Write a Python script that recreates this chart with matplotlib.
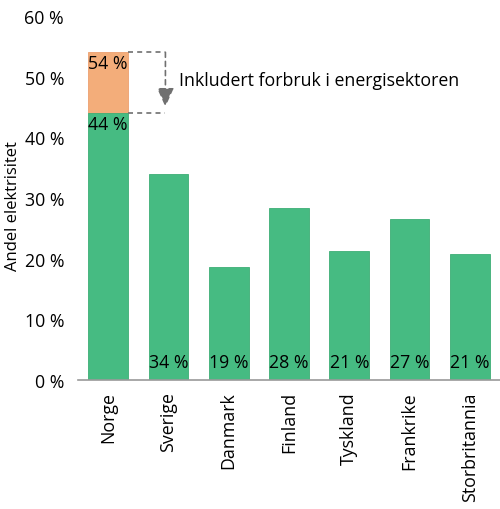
import matplotlib
matplotlib.use("Agg")
import matplotlib.pyplot as plt

# Andel elektrisitet i sluttforbruket
countries = ["Norge", "Sverige", "Danmark", "Finland", "Tyskland", "Frankrike", "Storbritannia"]
values = [44, 33.9, 18.6, 28.4, 21.3, 26.6, 20.8]
value_labels = ["44 %", "34 %", "19 %", "28 %", "21 %", "27 %", "21 %"]
norge_energy_sector = 54  # inkludert forbruk i energisektoren
norge_energy_label = "54 %"
yticks = [0, 10, 20, 30, 40, 50, 60]

green = "#46BB82"
orange = "#F3AD7A"
fs = 12.8

plt.rcParams["font.family"] = ["Open Sans", "DejaVu Sans"]
plt.rcParams["font.size"] = fs

fig = plt.figure(figsize=(5, 5.1), dpi=100)
ax = fig.add_axes([0.156, 0.253, 0.844, 0.714])

x = range(len(countries))
# orange part for Norge on top of green
ax.bar([0], [norge_energy_sector - values[0]], bottom=[values[0]], width=0.66,
       color=orange, edgecolor="#EDA070", linewidth=0.6)
ax.bar(x, values, width=0.66, color=green, edgecolor="#3DAE75", linewidth=0.6)

# value labels
ax.text(0, norge_energy_sector - 0.3, norge_energy_label, ha="center", va="top", fontsize=fs)
ax.text(0, values[0] - 0.3, value_labels[0], ha="center", va="top", fontsize=fs)
for i in range(1, len(countries)):
    ax.text(i, 1.4, value_labels[i], ha="center", va="bottom", fontsize=fs)

# annotation
ax.plot([0.33, 0.95], [norge_energy_sector] * 2, ls=(0, (3, 2.5)), color="#707070", lw=1.2)
ax.plot([0.33, 0.95], [values[0]] * 2, ls=(0, (3, 2.5)), color="#707070", lw=1.2)
ax.annotate("", xy=(0.95, values[0] + 1.0), xytext=(0.95, norge_energy_sector),
            arrowprops=dict(arrowstyle="-|>,head_length=0.9,head_width=0.4",
                            color="#707070", lw=1.2, linestyle=(0, (3, 2.5)),
                            shrinkA=0, shrinkB=0))
ax.text(1.18, 49.4, "Inkludert forbruk i energisektoren", ha="left", va="center", fontsize=fs)

ax.set_xlim(-0.5, 6.5)
ax.set_ylim(0, 60)
ax.set_yticks(yticks)
ax.set_yticklabels([f"{t} %" for t in yticks])
ax.set_xticks(list(x))
ax.set_xticklabels(countries, rotation=90)
ax.set_ylabel("Andel elektrisitet", fontsize=12, va="center")
ax.yaxis.set_label_coords(-0.155, 0.48)

for s in ["top", "right", "left"]:
    ax.spines[s].set_visible(False)
ax.spines["bottom"].set_color("#9A9A9A")
ax.spines["bottom"].set_linewidth(1.2)
ax.tick_params(axis="both", length=0)
ax.tick_params(axis="y", pad=10)
ax.tick_params(axis="x", pad=8)

fig.savefig("out.png", dpi=100)
